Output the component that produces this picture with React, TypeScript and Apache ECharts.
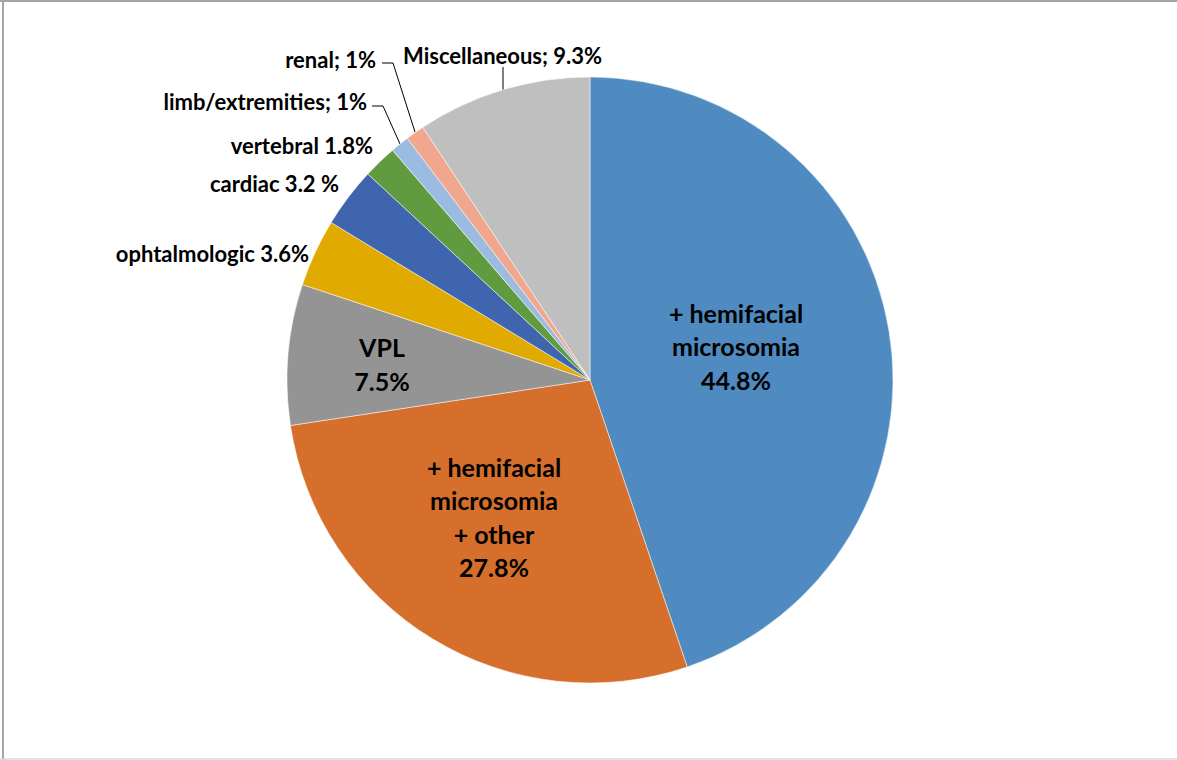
import React, { useEffect, useRef } from "react";
import * as echarts from "echarts";

const categories = [
  "+ hemifacial microsomia",
  "+ hemifacial microsomia + other",
  "VPL",
  "ophtalmologic",
  "cardiac",
  "vertebral",
  "limb/extremities",
  "renal",
  "Miscellaneous",
];
const values = [44.8, 27.8, 7.5, 3.6, 3.2, 1.8, 1, 1, 9.3];
const labelTexts = [
  "+ hemifacial\nmicrosomia\n44.8%",
  "+ hemifacial\nmicrosomia\n+ other\n27.8%",
  "VPL\n7.5%",
  "ophtalmologic 3.6%",
  "cardiac 3.2 %",
  "vertebral 1.8%",
  "limb/extremities; 1%",
  "renal; 1%",
  "Miscellaneous; 9.3%",
];
const colors = [
  "#4F8BC0",
  "#D56F2B",
  "#949494",
  "#E1AA00",
  "#3E65AE",
  "#619B3F",
  "#9BBBE0",
  "#F0A78D",
  "#BFBFBF",
];

// label placement (layout config)
const layout: any[] = [
  { x: 736, y: 346, align: "center", big: true },
  { x: 494, y: 517, align: "center", big: true },
  { x: 382, y: 364, align: "center", big: true },
  { x: 309, y: 253, align: "right" },
  { x: 339, y: 183, align: "right" },
  { x: 373, y: 145, align: "right" },
  { x: 367, y: 101, align: "right", line: [[400, 144], [383, 106], [372, 106]] },
  { x: 376, y: 59, align: "right", line: [[415, 132], [393, 63], [382, 63]] },
  { x: 403, y: 55, align: "left", line: [[503, 91], [503, 80], [503, 67]] },
];

export default function App() {
  const ref = useRef<HTMLDivElement>(null);
  useEffect(() => {
    document.body.style.margin = "0";
    const chart = echarts.init(ref.current!, null, { renderer: "svg" });
    const font = "Lato, 'Open Sans', sans-serif";
    chart.setOption({
      animation: false,
      backgroundColor: "#fff",
      graphic: [
        { type: "line", shape: { x1: 0, y1: 1, x2: 1177, y2: 1 }, style: { stroke: "#a6a6a6", lineWidth: 2 } },
        { type: "line", shape: { x1: 3, y1: 0, x2: 3, y2: 760 }, style: { stroke: "#a6a6a6", lineWidth: 2 } },
        { type: "line", shape: { x1: 0, y1: 759, x2: 1177, y2: 759 }, style: { stroke: "#d9d9d9", lineWidth: 1.5 } },
      ],
      series: [
        {
          type: "pie",
          center: [590, 380],
          radius: 303,
          startAngle: 90,
          clockwise: true,
          avoidLabelOverlap: false,
          itemStyle: { borderColor: "#ffffff", borderWidth: 0.5 },
          labelLine: { show: true, lineStyle: { color: "#000", width: 1 } },
          data: categories.map((name, i) => ({
            name,
            value: values[i],
            itemStyle: { color: colors[i] },
            label: {
              show: true,
              position: layout[i].big ? "inside" : "outside",
              formatter: labelTexts[i],
              color: "#000",
              fontFamily: font,
              fontWeight: "bold",
              fontSize: layout[i].big ? 25 : 22,
              lineHeight: layout[i].big ? 33.5 : 26,
              align: layout[i].align,
            },
            labelLine: { show: !!layout[i].line, length: 10, length2: 10 },
          })),
          labelLayout: (params: any) => {
            const l = layout[params.dataIndex];
            const r: any = {
              x: l.x,
              y: l.y,
              align: l.align,
              verticalAlign: "middle",
              hideOverlap: false,
            };
            if (l.line) r.labelLinePoints = l.line;
            return r;
          },
        },
      ],
    });
    return () => chart.dispose();
  }, []);
  return (
    <div
      ref={ref}
      style={{ position: "absolute", left: 0, top: 0, width: 1177, height: 760 }}
    />
  );
}
